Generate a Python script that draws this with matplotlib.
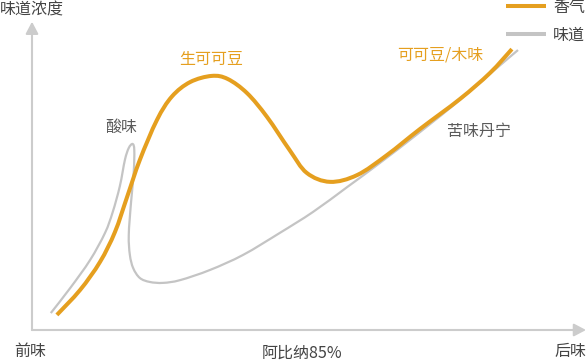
import matplotlib
matplotlib.use("Agg")
import matplotlib.pyplot as plt
import numpy as np
from matplotlib.path import Path
from matplotlib.patches import PathPatch, FancyArrowPatch, ArrowStyle

plt.rcParams['font.family'] = ['Noto Sans CJK SC', 'DejaVu Sans']

# ---- data (chart units: x = time 0..100, y = intensity 0..100) ----
aroma_x = [4.5, 8.7, 12.3, 15.0, 17.2, 19.5, 22.6, 25.3, 28.6, 32.5, 35.4, 38.9,
           42.5, 46.6, 49.7, 53.9, 58.8, 64.2, 70.2, 77.4, 82.8, 86.8]
aroma_y = [4.9, 13.0, 22.1, 31.8, 43.2, 55.2, 68.2, 75.8, 80.5, 82.5, 81.5, 76.9,
           69.2, 58.4, 51.0, 48.1, 50.3, 56.8, 65.3, 75.0, 83.4, 91.2]

taste_x = [3.4, 6.9, 10.5, 13.2, 14.6, 15.9, 16.8, 17.5, 18.2, 18.5, 18.4, 17.9,
           17.5, 17.7, 18.3, 19.5, 21.3, 23.7, 26.8, 32.2, 38.2, 44.8, 50.8,
           57.0, 62.9, 70.2, 77.4, 82.8, 87.9]
taste_y = [5.5, 13.6, 22.7, 31.5, 38.3, 46.8, 55.2, 59.1, 60.4, 58.4, 51.3, 41.2,
           30.8, 24.4, 20.1, 16.9, 15.6, 15.3, 16.2, 19.5, 24.4, 31.5, 38.3,
           46.4, 54.2, 64.3, 74.7, 83.1, 90.9]

series_names = ['香气', '味道']
y_label = '味道浓度'
x_start_label = '前味'
x_end_label = '后味'
title_label = '阿比纳85%'
annotations = [('酸味', 16.1, 65.9, 'gray'),
               ('生可可豆', 32.4, 87.7, 'orange'),
               ('可可豆/木味', 73.8, 89.3, 'orange'),
               ('苦味丹宁', 80.8, 64.3, 'gray')]

ORANGE = '#E59F1F'
GRAY = '#C4C4C4'
AXIS = '#CCCCCC'
TEXT = '#5a5a5a'
DARK = '#444444'

W, H = 587, 361
fig = plt.figure(figsize=(W / 100, H / 100), dpi=100)
ax = fig.add_axes([32 / W, 31 / H, 554 / W, 308.3 / H])
ax.set_xlim(0, 100.2)
ax.set_ylim(0, 100.1)
ax.axis('off')


def smooth_path(xs, ys):
    pts = np.column_stack([xs, ys])
    n = len(pts)
    verts = [pts[0]]
    codes = [Path.MOVETO]
    for i in range(n - 1):
        p0 = pts[i - 1] if i > 0 else pts[i]
        p1 = pts[i]
        p2 = pts[i + 1]
        p3 = pts[i + 2] if i + 2 < n else pts[i + 1]
        c1 = p1 + (p2 - p0) / 6.0
        c2 = p2 - (p3 - p1) / 6.0
        verts += [c1, c2, p2]
        codes += [Path.CURVE4] * 3
    return Path(verts, codes)


ax.add_patch(PathPatch(smooth_path(taste_x, taste_y), fill=False, edgecolor=GRAY,
                       lw=1.6, capstyle='butt', zorder=2))
ax.add_patch(PathPatch(smooth_path(aroma_x, aroma_y), fill=False, edgecolor=ORANGE,
                       lw=2.9, capstyle='butt', zorder=3))

# axes arrows
style = ArrowStyle('-|>', head_length=0.72, head_width=0.38)
for end in [(1, 0), (0, 1)]:
    arr = FancyArrowPatch((0, 0), end, transform=ax.transAxes, arrowstyle=style,
                          mutation_scale=10, color=AXIS, lw=1.5,
                          shrinkA=0, shrinkB=0, clip_on=False)
    ax.add_patch(arr)

# text
fs = 11.5
fig.text(0 / W, 1 - 10 / H, y_label, fontsize=fs, color=DARK, ha='left', va='center')
fig.text(30 / W, 1 - 351 / H, x_start_label, fontsize=fs, color=DARK, ha='center', va='center')
fig.text(570 / W, 1 - 351 / H, x_end_label, fontsize=fs, color=DARK, ha='center', va='center')
fig.text(302 / W, 1 - 353 / H, title_label, fontsize=fs, color=DARK, ha='center', va='center')

for label, xd, yd, kind in annotations:
    ax.text(xd, yd, label, fontsize=fs, color=ORANGE if kind == 'orange' else TEXT,
            ha='center', va='center')

# legend
for (name, col, lw, yp) in [(series_names[0], ORANGE, 2.9, 6), (series_names[1], GRAY, 2.9, 33.5)]:
    fig.add_artist(plt.Line2D([506 / W, 546 / W], [1 - yp / H, 1 - yp / H], color=col, lw=lw,
                              solid_capstyle='butt'))
    fig.text(553 / W, 1 - (yp + 1.5) / H, name, fontsize=fs, color=DARK, ha='left', va='center')

fig.savefig('out.png', dpi=100)
